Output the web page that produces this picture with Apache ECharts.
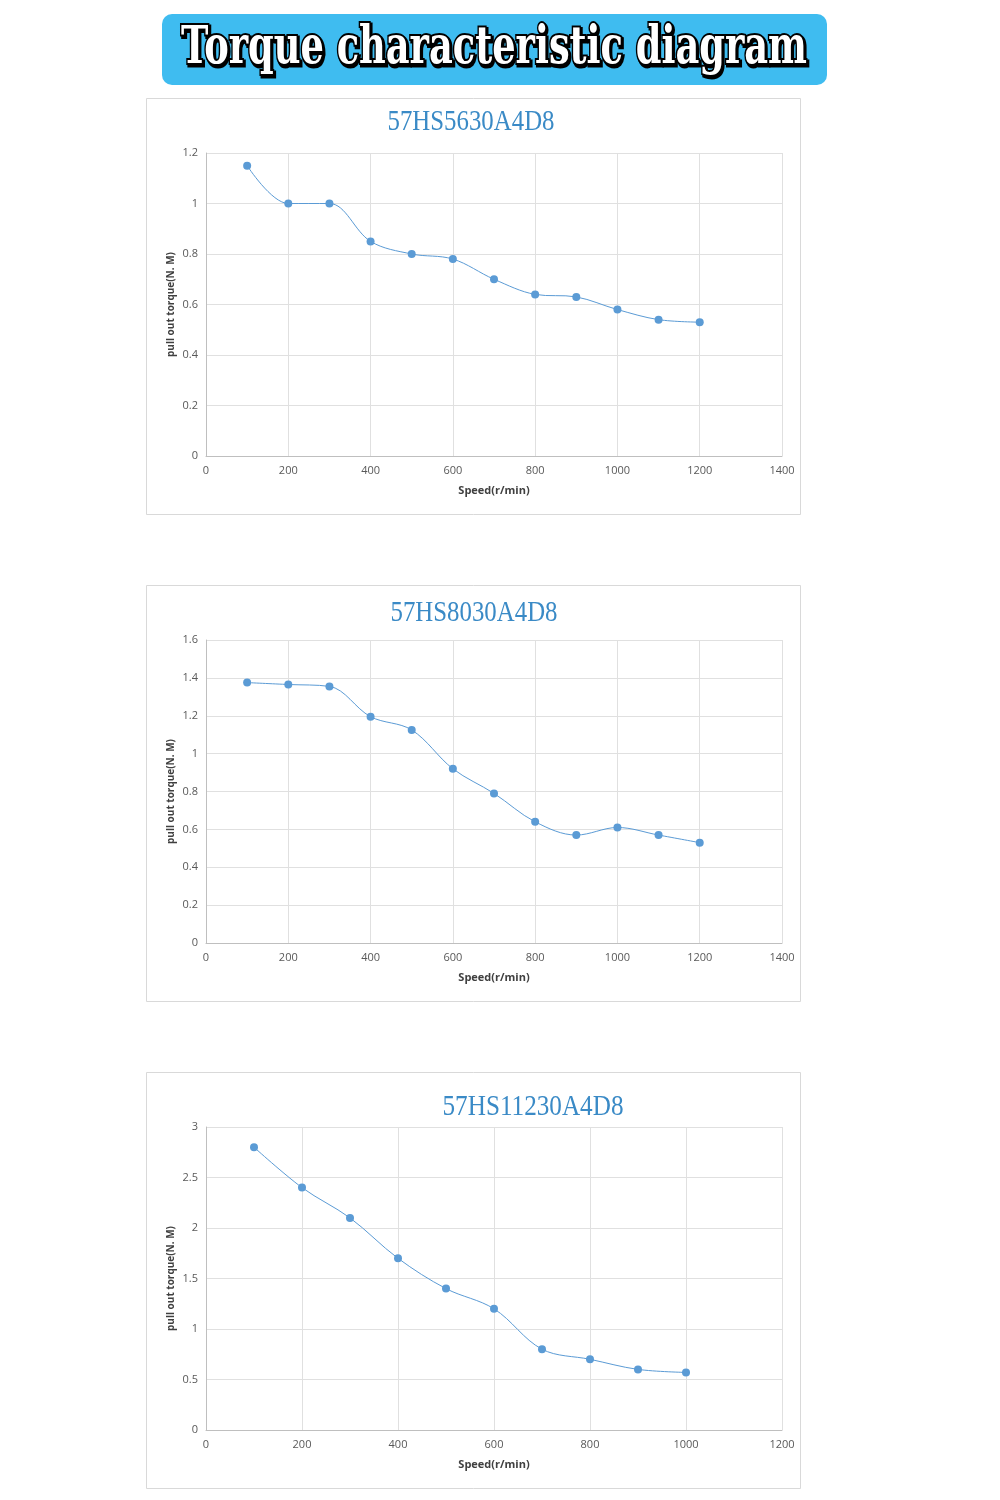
<!DOCTYPE html>
<html>
<head>
<meta charset="utf-8">
<script src="https://cdn.jsdelivr.net/npm/echarts@6/dist/echarts.min.js"></script>
<style>
html,body{margin:0;padding:0;background:#fff;}
#c{width:1000px;height:1500px;}
</style>
</head>
<body>
<div id="c"></div>
<script>
var pageTitle = 'Torque characteristic diagram';
var chartTitles = ['57HS5630A4D8', '57HS8030A4D8', '57HS11230A4D8'];
var xAxisName = 'Speed(r/min)';
var yAxisName = 'pull out torque(N. M)';

var speeds1 = [100, 200, 300, 400, 500, 600, 700, 800, 900, 1000, 1100, 1200];
var torque1 = [1.15, 1.0, 1.0, 0.85, 0.80, 0.78, 0.70, 0.64, 0.63, 0.58, 0.54, 0.53];

var speeds2 = [100, 200, 300, 400, 500, 600, 700, 800, 900, 1000, 1100, 1200];
var torque2 = [1.375, 1.365, 1.355, 1.195, 1.125, 0.92, 0.79, 0.64, 0.57, 0.61, 0.57, 0.53];

var speeds3 = [100, 200, 300, 400, 500, 600, 700, 800, 900, 1000];
var torque3 = [2.8, 2.4, 2.1, 1.7, 1.4, 1.2, 0.8, 0.7, 0.6, 0.57];

var xMax = [1400, 1400, 1200];
var yMax = [1.2, 1.6, 3];
var yStep = [0.2, 0.2, 0.5];

function zip(a, b) { return a.map(function (v, i) { return [v, b[i]]; }); }
var seriesData = [zip(speeds1, torque1), zip(speeds2, torque2), zip(speeds3, torque3)];

var panelTops = [98, 585, 1072];
var gridTops = [153, 640, 1127];
var titleCenters = [[471, 122], [474, 613], [533, 1107]];
var titleWidths = [167, 167, 181];

var cv = document.createElement('canvas').getContext('2d');
var bannerFont = 'bold 52px "DejaVu Serif"';
cv.font = bannerFont;
var sx = 626 / cv.measureText(pageTitle).width;
var titleFont = '28px "Liberation Serif"';
cv.font = titleFont;

var grids = [], xAxes = [], yAxes = [], series = [], graphics = [];

graphics.push({
  type: 'rect', shape: { x: 162, y: 14, width: 665, height: 71, r: 10 },
  style: { fill: '#3fbcf0' }, z: 1
});
graphics.push({
  type: 'text', x: 494 + 1.5, y: 49 + 2, scaleX: sx, scaleY: 1,
  style: { text: pageTitle, font: bannerFont, fill: '#000', stroke: '#000', lineWidth: 5,
    textAlign: 'center', textVerticalAlign: 'middle' }, z: 2
});
graphics.push({
  type: 'text', x: 494, y: 49, scaleX: sx, scaleY: 1,
  style: { text: pageTitle, font: bannerFont, fill: '#ffffff', stroke: '#000', lineWidth: 4,
    strokeFirst: true, textAlign: 'center', textVerticalAlign: 'middle' }, z: 3
});

function noComma(v) { return String(v); }

for (var i = 0; i < 3; i++) {
  var tsx = titleWidths[i] / cv.measureText(chartTitles[i]).width;
  graphics.push({
    type: 'rect', shape: { x: 146.5, y: panelTops[i] + 0.5, width: 654, height: 416 },
    style: { fill: 'none', stroke: '#d9d9d9', lineWidth: 1 }, z: 1
  });
  graphics.push({
    type: 'text', x: titleCenters[i][0], y: titleCenters[i][1], scaleX: tsx, scaleY: 1.05,
    style: { text: chartTitles[i], font: titleFont, fill: '#3a8ac6',
      textAlign: 'center', textVerticalAlign: 'middle' }, z: 2
  });
  grids.push({ left: 206, width: 576, top: gridTops[i], height: 303 });
  xAxes.push({
    type: 'value', gridIndex: i, min: 0, max: xMax[i], interval: 200,
    name: xAxisName, nameLocation: 'middle', nameGap: 29, nameMoveOverlap: false,
    nameTextStyle: { fontSize: 11, fontWeight: 'bold', color: '#404040', fontFamily: 'Open Sans' },
    axisLine: { show: true, lineStyle: { color: '#bfbfbf', width: 1 } },
    axisTick: { show: false },
    axisLabel: { color: '#595959', fontSize: 11, margin: 9, fontFamily: 'Open Sans', formatter: noComma },
    splitLine: { show: true, lineStyle: { color: '#e0e0e0', width: 1 } }
  });
  yAxes.push({
    type: 'value', gridIndex: i, min: 0, max: yMax[i], interval: yStep[i],
    name: yAxisName, nameLocation: 'middle', nameGap: 30, nameRotate: 90, nameMoveOverlap: false,
    nameTextStyle: { fontSize: 10, fontWeight: 'bold', color: '#404040', fontFamily: 'Open Sans' },
    axisLine: { show: true, lineStyle: { color: '#bfbfbf', width: 1 } },
    axisTick: { show: false },
    axisLabel: { color: '#595959', fontSize: 11, margin: 8, fontFamily: 'Open Sans' },
    splitLine: { show: true, lineStyle: { color: '#e0e0e0', width: 1 } }
  });
  series.push({
    type: 'line', xAxisIndex: i, yAxisIndex: i, data: seriesData[i],
    smooth: 0.35, symbol: 'circle', symbolSize: 8,
    lineStyle: { color: '#5b9bd5', width: 1 },
    itemStyle: { color: '#5b9bd5' }
  });
}

var chart = echarts.init(document.getElementById('c'), null, { renderer: 'canvas' });
chart.setOption({
  animation: false,
  backgroundColor: '#ffffff',
  grid: grids, xAxis: xAxes, yAxis: yAxes, series: series,
  graphic: graphics
});
</script>
</body>
</html>
